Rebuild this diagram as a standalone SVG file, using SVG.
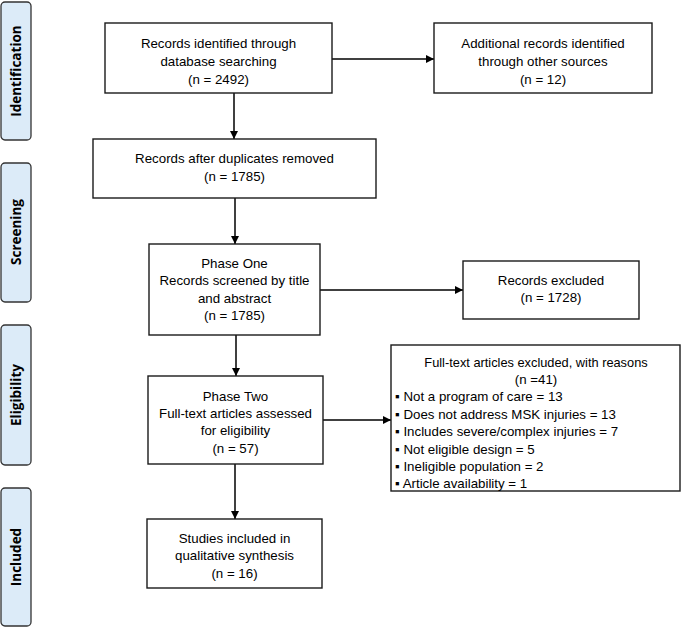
<svg xmlns="http://www.w3.org/2000/svg" width="685" height="628" viewBox="0 0 685 628">
<style>
.box{fill:#fff;stroke:#1a1a1a;stroke-width:1.4}
.side{fill:#dcebf8;stroke:#333;stroke-width:1.3}
.t{font-family:"Liberation Sans",Arial,sans-serif;font-size:13.3px;fill:#000;text-anchor:middle}
.l{font-family:"Liberation Sans",Arial,sans-serif;font-size:13.3px;fill:#000}
.s{font-family:"Open Sans","Liberation Sans",sans-serif;font-size:13.5px;font-weight:bold;fill:#000;text-anchor:middle}
.c{stroke:#000;stroke-width:1.5;fill:none}
</style>
<defs>
<marker id="ah" viewBox="0 0 10 10" refX="10" refY="5" markerWidth="8" markerHeight="8" markerUnits="userSpaceOnUse" orient="auto">
<path d="M0,0 L10,5 L0,10 z" fill="#000"/>
</marker>
</defs>
<g id="phase-identification"><rect class="side" x="1" y="2" width="30" height="138" rx="4"/><text class="s" transform="translate(21,71) rotate(-90)">Identification</text></g>
<g id="phase-screening"><rect class="side" x="1" y="163" width="30" height="139" rx="4"/><text class="s" transform="translate(21,232) rotate(-90)">Screening</text></g>
<g id="phase-eligibility"><rect class="side" x="1" y="325" width="30" height="140" rx="4"/><text class="s" transform="translate(21,395) rotate(-90)">Eligibility</text></g>
<g id="phase-included"><rect class="side" x="1" y="488" width="30" height="138" rx="4"/><text class="s" transform="translate(21,557) rotate(-90)">Included</text></g>

<g id="connectors">
<line class="c" x1="332" y1="59" x2="434" y2="59" marker-end="url(#ah)"/>
<line class="c" x1="234" y1="93" x2="234" y2="139" marker-end="url(#ah)"/>
<line class="c" x1="235" y1="198" x2="235" y2="244" marker-end="url(#ah)"/>
<line class="c" x1="320" y1="290" x2="463" y2="290" marker-end="url(#ah)"/>
<line class="c" x1="236" y1="335" x2="236" y2="376" marker-end="url(#ah)"/>
<line class="c" x1="323" y1="420" x2="391" y2="420" marker-end="url(#ah)"/>
<line class="c" x1="235" y1="464" x2="235" y2="519" marker-end="url(#ah)"/>
</g>

<g id="records-identified"><rect class="box" x="105" y="23" width="227" height="70"/>
<text class="t" x="218.5" y="47.5">Records identified through</text>
<text class="t" x="218.5" y="65.5">database searching</text>
<text class="t" x="218.5" y="84">(n = 2492)</text></g>

<g id="additional-records"><rect class="box" x="434" y="23" width="218" height="70"/>
<text class="t" x="543" y="47.5">Additional records identified</text>
<text class="t" x="543" y="65.5">through other sources</text>
<text class="t" x="543" y="84">(n = 12)</text></g>

<g id="duplicates-removed"><rect class="box" x="93" y="139" width="283" height="59"/>
<text class="t" x="234.5" y="162.5">Records after duplicates removed</text>
<text class="t" x="234.5" y="181">(n = 1785)</text></g>

<g id="phase-one"><rect class="box" x="149" y="244" width="171" height="91"/>
<text class="t" x="234.5" y="267.5">Phase One</text>
<text class="t" x="234.5" y="285">Records screened by title</text>
<text class="t" x="234.5" y="302.5">and abstract</text>
<text class="t" x="234.5" y="320">(n = 1785)</text></g>

<g id="records-excluded"><rect class="box" x="463" y="261" width="176" height="58"/>
<text class="t" x="551" y="284.5">Records excluded</text>
<text class="t" x="551" y="302">(n = 1728)</text></g>

<g id="phase-two"><rect class="box" x="148" y="376" width="175" height="88"/>
<text class="t" x="235.5" y="400.5">Phase Two</text>
<text class="t" x="235.5" y="418">Full-text articles assessed</text>
<text class="t" x="235.5" y="435">for eligibility</text>
<text class="t" x="235.5" y="452.5">(n = 57)</text></g>

<g id="fulltext-excluded"><rect class="box" x="391" y="345" width="289" height="146"/>
<text class="t" x="536" y="366.5" style="font-size:12.8px">Full-text articles excluded, with reasons</text>
<text class="t" x="536" y="384">(n =41)</text>
<text class="l" x="395" y="401">▪ Not a program of care = 13</text>
<text class="l" x="395" y="418.5">▪ Does not address MSK injuries = 13</text>
<text class="l" x="395" y="436">▪ Includes severe/complex injuries = 7</text>
<text class="l" x="395" y="453.5">▪ Not eligible design = 5</text>
<text class="l" x="395" y="471">▪ Ineligible population = 2</text>
<text class="l" x="395" y="488">▪ Article availability = 1</text></g>

<g id="studies-included"><rect class="box" x="147" y="519" width="175" height="69"/>
<text class="t" x="234.5" y="542.5">Studies included in</text>
<text class="t" x="234.5" y="560">qualitative synthesis</text>
<text class="t" x="234.5" y="577.5">(n = 16)</text></g>
</svg>
